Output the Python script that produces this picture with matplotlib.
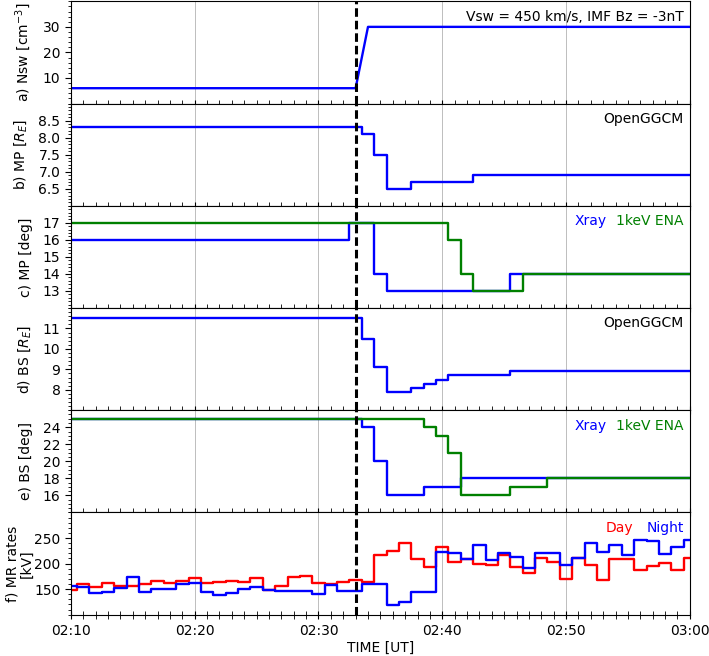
import numpy as np
import matplotlib
matplotlib.use('Agg')
import matplotlib.pyplot as plt
from matplotlib.ticker import AutoMinorLocator, MultipleLocator, FuncFormatter

# time in minutes after 02:00 UT
t_arrival = 33

# a) solar wind density
nsw_t = [10, 33, 34, 60]
nsw_v = [6, 6, 30, 30]

# b) magnetopause standoff, OpenGGCM (step edges)
mp_model_t = [10, 33.5, 34.5, 35.5, 37.5, 42.5, 60]
mp_model_v = [8.3, 8.1, 7.5, 6.5, 6.7, 6.9, 6.9]

# c) magnetopause angle, Xray and ENA
mp_xray_t = [10, 32.5, 34.5, 35.5, 45.5, 60]
mp_xray_v = [16, 17, 14, 13, 14, 14]
mp_ena_t = [10, 40.5, 41.5, 42.5, 46.5, 60]
mp_ena_v = [17, 16, 14, 13, 14, 14]

# d) bow shock standoff, OpenGGCM
bs_model_t = [10, 33.5, 34.5, 35.5, 37.5, 38.5, 39.5, 40.5, 45.5, 60]
bs_model_v = [11.5, 10.5, 9.1, 7.9, 8.1, 8.3, 8.5, 8.7, 8.9, 8.9]

# e) bow shock angle, Xray and ENA
bs_xray_t = [10, 33.5, 34.5, 35.5, 38.5, 41.5, 48.5, 60]
bs_xray_v = [25, 24, 20, 16, 17, 18, 18, 18]
bs_ena_t = [10, 38.5, 39.5, 40.5, 41.5, 45.5, 48.5, 60]
bs_ena_v = [25, 24, 23, 21, 16, 17, 18, 18]

# f) reconnection rates, one value per minute 02:10 - 03:00
mr_t = np.arange(10, 61)
mr_day = [148, 160, 154, 161, 156, 156, 160, 166, 162, 166,
          172, 162, 164, 165, 163, 172, 148, 156, 174, 176,
          161, 160, 163, 167, 164, 217, 225, 240, 208, 194,
          232, 203, 209, 200, 197, 217, 193, 182, 211, 203,
          169, 211, 198, 167, 208, 208, 187, 196, 201, 187,
          210]
mr_night = [156, 154, 142, 145, 153, 174, 145, 150, 150, 160,
            161, 145, 139, 143, 151, 154, 148, 147, 146, 146,
            140, 158, 147, 147, 160, 160, 118, 124, 144, 144,
            223, 220, 209, 237, 206, 221, 212, 192, 220, 221,
            198, 211, 240, 223, 236, 216, 246, 245, 218, 232,
            247]

xticks = [10, 20, 30, 40, 50, 60]

fig, axes = plt.subplots(6, 1, figsize=(7.09, 6.56), dpi=100, sharex=True)
fig.subplots_adjust(left=0.100, right=0.973, top=0.998, bottom=0.063, hspace=0)

lw = 1.7
fs = 10
ty = 0.85

ax = axes[0]
ax.plot(nsw_t, nsw_v, color='blue', lw=lw)
ax.set_ylim(0, 40)
ax.set_yticks([10, 20, 30])
ax.set_ylabel(r'a) Nsw [cm$^{-3}$]')
ax.text(0.99, ty, 'Vsw = 450 km/s, IMF Bz = -3nT', ha='right', va='center',
        transform=ax.transAxes, fontsize=fs)

ax = axes[1]
ax.step(mp_model_t, mp_model_v, where='post', color='blue', lw=lw)
ax.set_ylim(6.0, 9.0)
ax.set_yticks([6.5, 7.0, 7.5, 8.0, 8.5])
ax.set_ylabel(r'b) MP [$R_E$]')
ax.text(0.99, ty, 'OpenGGCM', ha='right', va='center', transform=ax.transAxes, fontsize=fs)

ax = axes[2]
ax.step(mp_xray_t, mp_xray_v, where='post', color='blue', lw=lw)
ax.step(mp_ena_t, mp_ena_v, where='post', color='green', lw=lw)
ax.set_ylim(12, 18)
ax.set_yticks([13, 14, 15, 16, 17])
ax.set_ylabel('c) MP [deg]')
ax.text(0.866, ty, 'Xray', color='blue', ha='right', va='center', transform=ax.transAxes, fontsize=fs)
ax.text(0.99, ty, '1keV ENA', color='green', ha='right', va='center', transform=ax.transAxes, fontsize=fs)

ax = axes[3]
ax.step(bs_model_t, bs_model_v, where='post', color='blue', lw=lw)
ax.set_ylim(7, 12)
ax.set_yticks([8, 9, 10, 11])
ax.set_ylabel(r'd) BS [$R_E$]')
ax.text(0.99, ty, 'OpenGGCM', ha='right', va='center', transform=ax.transAxes, fontsize=fs)

ax = axes[4]
ax.step(bs_xray_t, bs_xray_v, where='post', color='blue', lw=lw)
ax.step(bs_ena_t, bs_ena_v, where='post', color='green', lw=lw)
ax.set_ylim(14, 26)
ax.set_yticks([16, 18, 20, 22, 24])
ax.set_ylabel('e) BS [deg]')
ax.text(0.866, ty, 'Xray', color='blue', ha='right', va='center', transform=ax.transAxes, fontsize=fs)
ax.text(0.99, ty, '1keV ENA', color='green', ha='right', va='center', transform=ax.transAxes, fontsize=fs)

ax = axes[5]
ax.step(mr_t, mr_day, where='mid', color='red', lw=lw)
ax.step(mr_t, mr_night, where='mid', color='blue', lw=lw)
ax.set_ylim(100, 300)
ax.set_yticks([150, 200, 250])
ax.set_ylabel('f) MR rates\n[kV]')
ax.text(0.909, ty, 'Day', color='red', ha='right', va='center', transform=ax.transAxes, fontsize=fs)
ax.text(0.99, ty, 'Night', color='blue', ha='right', va='center', transform=ax.transAxes, fontsize=fs)
ax.set_xlabel('TIME [UT]', fontsize=fs, labelpad=2)

for ax in axes:
    ax.axvline(t_arrival, color='black', ls=(0, (2.8, 1.3)), lw=2.2, zorder=5)
    ax.set_xlim(10, 60)
    ax.set_xticks(xticks)
    ax.xaxis.set_minor_locator(MultipleLocator(1))
    ax.yaxis.set_minor_locator(AutoMinorLocator())
    ax.grid(True, axis='x', which='major', color='grey', lw=0.6, alpha=0.6)
    ax.tick_params(axis='x', which='both', direction='inout', length=6, labelsize=fs)
    ax.tick_params(axis='y', which='major', labelsize=fs, length=4)
    ax.tick_params(axis='y', which='minor', length=2)
    ax.yaxis.label.set_size(fs)
    ax.yaxis.labelpad = 7

axes[-1].yaxis.labelpad = 0
axes[-1].yaxis.label.set_linespacing(1.1)
axes[-1].xaxis.set_major_formatter(FuncFormatter(
    lambda v, p: '%02d:%02d' % (2 + int(v) // 60, int(v) % 60)))

plt.savefig('out.png', dpi=100)
